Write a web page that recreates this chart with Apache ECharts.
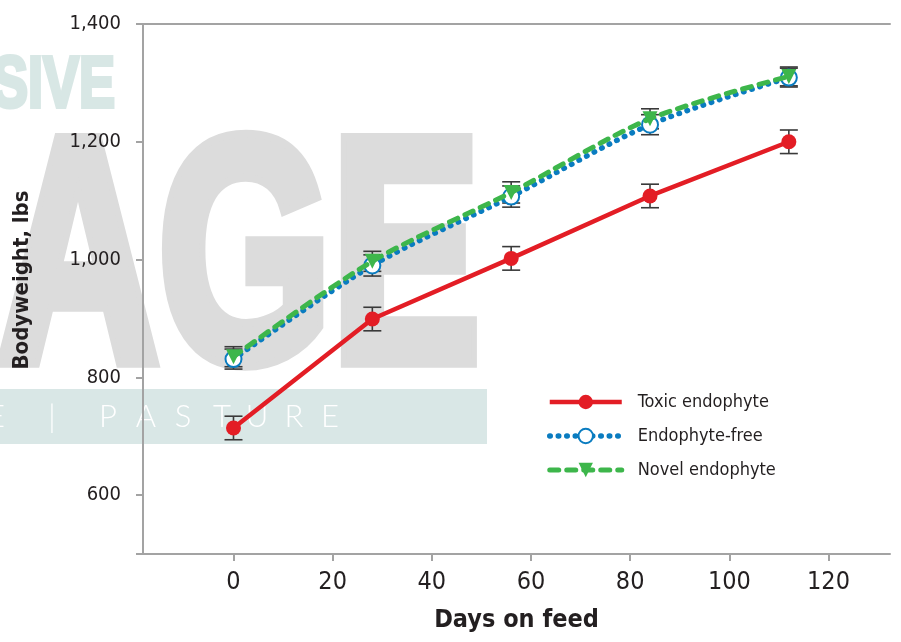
<!DOCTYPE html>
<html>
<head>
<meta charset="utf-8">
<script src="https://cdn.jsdelivr.net/npm/echarts@6/dist/echarts.min.js"></script>
<style>html,body{margin:0;padding:0;background:#fff;}#chart{width:901px;height:642px;}</style>
</head>
<body>
<div id="chart"></div>
<script>
// ---- data ----
const days = [0, 28, 56, 84, 112];
const toxic = [714, 899, 1002, 1108, 1200];
const toxicErr = [20, 20, 20, 20, 20];
const endoFree = [831, 990, 1107, 1229, 1309];
const endoFreeErr = [17, 18, 18, 17, 16];
const novel = [835, 997, 1114, 1239, 1311];
const novelErr = [17, 17, 18, 17, 16];
const xTicks = [0, 20, 40, 60, 80, 100, 120];
const yTicks = [600, 800, 1000, 1200, 1400];
const yTickMarks = [500, 600, 800, 1000, 1200, 1400];
const seriesNames = ['Toxic endophyte', 'Endophyte-free', 'Novel endophyte'];
const xTitle = 'Days on feed';
const yTitle = 'Bodyweight, lbs';

const NARROW = "'Liberation Sans Narrow','DejaVu Sans Condensed','Roboto Condensed','Arial Narrow',sans-serif";
const RED = '#e31d25', BLUE = '#0a7cc0', GREEN = '#3db64b';
const AXIS = '#a3a3a3', TXT = '#231f20';

const chart = echarts.init(document.getElementById('chart'), null, {renderer: 'canvas'});

function pairs(vals) { return days.map((d, i) => [d, vals[i]]); }
function errData(vals, errs) { return days.map((d, i) => [d, vals[i] - errs[i], vals[i] + errs[i]]); }

function errRender(params, api) {
  const x = api.value(0);
  const lo = api.coord([x, api.value(1)]);
  const hi = api.coord([x, api.value(2)]);
  const w = 9;
  const st = {stroke: '#3a3a3a', lineWidth: 1.6};
  return {
    type: 'group',
    children: [
      {type: 'line', shape: {x1: lo[0], y1: lo[1], x2: hi[0], y2: hi[1]}, style: st},
      {type: 'line', shape: {x1: lo[0] - w, y1: lo[1], x2: lo[0] + w, y2: lo[1]}, style: st},
      {type: 'line', shape: {x1: hi[0] - w, y1: hi[1], x2: hi[0] + w, y2: hi[1]}, style: st}
    ]
  };
}

const pastureLetters = [['E', -4], ['|', 52], ['P', 108], ['A', 146], ['S', 183], ['T', 222], ['U', 257], ['R', 294], ['E', 330]];
const WM_GREY = '#dcdcdc', WM_TEAL = '#d8e7e5';

const graphics = [
  {type: 'text', x: 480, y: 431, scaleX: 0.7, z: -10, silent: true,
   style: {text: 'AGE', x: 0, y: 0, textAlign: 'right', textVerticalAlign: 'bottom',
     fontFamily: 'Liberation Sans', fontWeight: 'bold', fontSize: 318,
     fill: WM_GREY, stroke: WM_GREY, lineWidth: 16, lineJoin: 'miter'}},
  {type: 'text', x: 115, y: 123, scaleX: 0.75, z: -10, silent: true,
   style: {text: 'SIVE', x: 0, y: 0, textAlign: 'right', textVerticalAlign: 'bottom',
     fontFamily: 'Liberation Sans', fontWeight: 'bold', fontSize: 72,
     fill: WM_TEAL, stroke: WM_TEAL, lineWidth: 4}},
  {type: 'rect', z: -10, silent: true, shape: {x: 0, y: 389, width: 487, height: 55}, style: {fill: '#d9e7e6'}},
  {type: 'text', x: 22, y: 280, rotation: Math.PI / 2, silent: true,
   style: {text: yTitle, x: 0, y: 0, textAlign: 'center', textVerticalAlign: 'middle', font: "bold 22px " + NARROW, fill: TXT}}
];
pastureLetters.forEach(([ch, cx]) => {
  graphics.push({type: 'text', x: cx, y: 417, z: -9, silent: true,
    style: {text: ch, x: 0, y: 0, textAlign: 'center', textVerticalAlign: 'middle', font: "300 31px Lato,'Open Sans',sans-serif", fill: '#ffffff'}});
});

const legendLine = [
  {color: RED, width: 4.5, type: 'solid'},
  {color: BLUE, width: 5.5, type: [0.5, 8], cap: 'round'},
  {color: GREEN, width: 5, type: [9, 8], cap: 'round'}
];

const option = {
  backgroundColor: '#fff',
  animation: false,
  grid: {left: 143, right: 11, top: 24, bottom: 88, containLabel: false},
  graphic: graphics,
  legend: {
    orient: 'vertical', left: 542, top: 388, itemWidth: 72, itemHeight: 18, itemGap: 16,
    data: seriesNames.map((n, i) => ({name: n, lineStyle: legendLine[i]})),
    textStyle: {fontFamily: NARROW, fontSize: 18, color: TXT, padding: [0, 0, 0, 11]}
  },
  xAxis: [{
    type: 'value', min: -18.25, max: 132.4, position: 'bottom',
    name: xTitle, nameLocation: 'middle', nameGap: 54,
    nameTextStyle: {fontFamily: NARROW, fontWeight: 'bold', fontSize: 25, color: TXT},
    axisLine: {show: true, onZero: false, lineStyle: {color: AXIS, width: 2}},
    axisTick: {show: true, customValues: xTicks, length: 7, lineStyle: {color: AXIS, width: 2}},
    axisLabel: {customValues: xTicks, fontFamily: NARROW, fontSize: 25, color: TXT, margin: 16},
    splitLine: {show: false}
  }, {
    type: 'value', min: -18.25, max: 132.4, position: 'top',
    axisLine: {show: true, onZero: false, lineStyle: {color: AXIS, width: 2}},
    axisTick: {show: false}, axisLabel: {show: false}, splitLine: {show: false}
  }],
  yAxis: {
    type: 'value', min: 500, max: 1400, position: 'left',
    axisLine: {show: true, onZero: false, lineStyle: {color: AXIS, width: 2}},
    axisTick: {show: true, customValues: yTickMarks, length: 7, lineStyle: {color: AXIS, width: 2}},
    axisLabel: {customValues: yTicks, fontFamily: NARROW, fontSize: 20, color: TXT, margin: 22,
      formatter: v => v.toLocaleString('en-US')},
    splitLine: {show: false}
  },
  series: [
    {type: 'custom', name: 'errT', renderItem: errRender, data: errData(toxic, toxicErr), encode: {x: 0, y: [1, 2]}, z: 1, silent: true},
    {type: 'custom', name: 'errE', renderItem: errRender, data: errData(endoFree, endoFreeErr), encode: {x: 0, y: [1, 2]}, z: 1, silent: true},
    {type: 'custom', name: 'errN', renderItem: errRender, data: errData(novel, novelErr), encode: {x: 0, y: [1, 2]}, z: 1, silent: true},
    {type: 'line', name: seriesNames[0], data: pairs(toxic), z: 3,
     symbol: 'circle', symbolSize: 15, itemStyle: {color: RED},
     lineStyle: legendLine[0]},
    {type: 'line', name: seriesNames[1], data: pairs(endoFree), smooth: 0.3, z: 4,
     symbol: 'emptyCircle', symbolSize: 16, itemStyle: {color: BLUE, borderColor: BLUE, borderWidth: 3},
     lineStyle: legendLine[1]},
    {type: 'line', name: seriesNames[2], data: pairs(novel), smooth: 0.3, z: 5,
     symbol: 'triangle', symbolRotate: 180, symbolSize: 15, itemStyle: {color: GREEN},
     lineStyle: legendLine[2]}
  ]
};
chart.setOption(option);
</script>
</body>
</html>
